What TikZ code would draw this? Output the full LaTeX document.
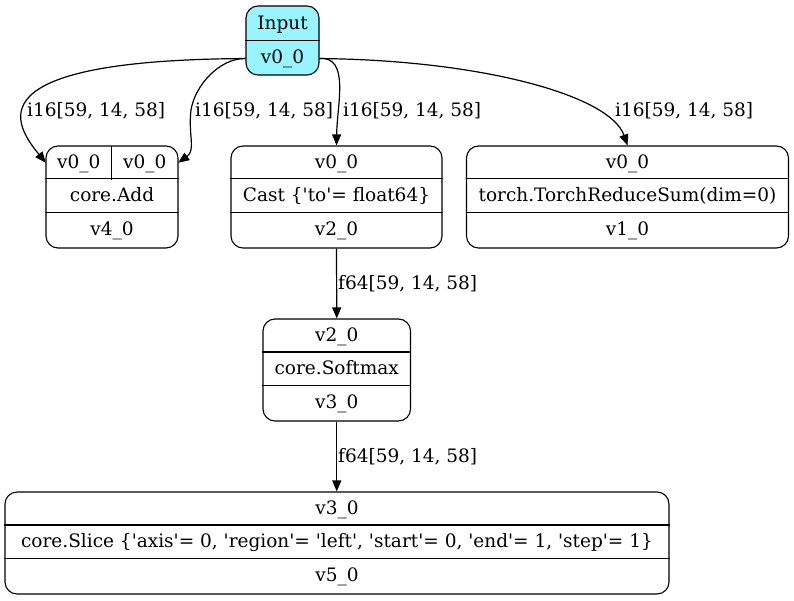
\documentclass[tikz,border=0pt]{standalone}
\usepackage{fontspec}
\setmainfont{DejaVu Serif}
\usetikzlibrary{arrows.meta, fit, calc}
\definecolor{inputcyan}{HTML}{98F5FF}

\newcommand{\dfont}{\fontsize{18.5}{22}\selectfont}
\newcommand{\sq}{\textquotesingle}
% record box: name, left, right, top, top text, middle text, bottom text
\newcommand{\recnode}[7]{%
  \node[rec, fit={(#2,#4) (#3,#4+102)}] (#1) {};
  \draw[sep] ([yshift=-33.5pt]#1.north west) -- ([yshift=-33.5pt]#1.north east);
  \draw[sep] ([yshift=-67pt]#1.north west) -- ([yshift=-67pt]#1.north east);
  \node[txt] (#1-in) at ([yshift=-22.75pt]#1.north) {#5};
  \node[txt] (#1-op) at ([yshift=-56.25pt]#1.north) {#6};
  \node[txt] (#1-out) at ([yshift=-90.5pt]#1.north) {#7};
}

\begin{document}
\begin{tikzpicture}[
    x=1pt, y=-1pt,
    rec/.style={draw, rounded corners=12pt, inner sep=0pt, line width=1.1pt},
    sep/.style={line width=1.1pt},
    txt/.style={anchor=base, inner sep=0pt, font=\dfont},
    lbl/.style={anchor=base west, inner sep=0pt, font=\dfont},
    arr/.style={-{Triangle[length=11pt, width=9pt]}, line width=1.2pt},
]
\useasboundingbox (0,0) rectangle (794,601);

% Input
\node[rec, fill=inputcyan, fit={(246,6) (319,75)}] (input) {};
\draw[sep] ([yshift=-35pt]input.north west) -- ([yshift=-35pt]input.north east);
\node[txt] (input-name) at (282.5,29.5) {Input};
\node[txt] (input-out) at (282.5,64) {v0\_0};

% Operators
\recnode{add}{46}{178}{146}{}{core.Add}{v4\_0}
\node[inner sep=0pt, fit={(46,146) (111.5,179.5)}] (adda) {};
\node[inner sep=0pt, fit={(111.5,146) (178,179.5)}] (addb) {};
\draw[sep] (adda.north east) -- (adda.south east);
\node[txt] at ([yshift=-6pt]adda.center) {v0\_0};
\node[txt] at ([yshift=-6pt]addb.center) {v0\_0};

\recnode{cast}{231}{442}{146}{v0\_0}{Cast \{\sq to\sq= float64\}}{v2\_0}
\recnode{rsum}{466.5}{788.5}{146}{v0\_0}{torch.TorchReduceSum(dim=0)}{v1\_0}
\recnode{smax}{263}{410.5}{319}{v2\_0}{core.Softmax}{v3\_0}
\recnode{slice}{5}{669}{492}{v3\_0}{core.Slice \{\sq axis\sq= 0, \sq region\sq= \sq left\sq, \sq start\sq= 0, \sq end\sq= 1, \sq step\sq= 1\}}{v5\_0}

% Edges from input
\coordinate (inl) at ([yshift=17pt]input.south west);
\coordinate (inr) at ([yshift=17pt]input.south east);
\draw[arr] (inl) .. controls (-30,60) and (15,125) .. (adda.west);
\draw[arr] (inl) .. controls (220,58) and (195,85) .. (191,110) .. controls (188,135) and (196,150) .. (addb.east);
\draw[arr] (inr) .. controls (350,56) and (337,105) .. (cast.north);
\draw[arr] (inr) .. controls (480,60) and (610,95) .. (rsum.north);
\draw[arr] (cast.south) -- (smax.north);
\draw[arr] (smax.south) -- (smax.south |- slice.north);

% Labels
\node[lbl] (l1) at (27,117) {i16[59, 14, 58]};
\node[lbl] (l2) at (195,117) {i16[59, 14, 58]};
\node[lbl] (l3) at (343,117) {i16[59, 14, 58]};
\node[lbl] (l4) at (615,117) {i16[59, 14, 58]};
\node[lbl] (l5) at (338,290) {f64[59, 14, 58]};
\node[lbl] (l6) at (338,462) {f64[59, 14, 58]};

\end{tikzpicture}
\end{document}
